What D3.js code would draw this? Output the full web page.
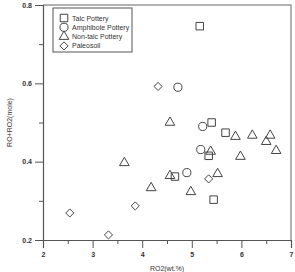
<!DOCTYPE html>
<html>
<head>
<meta charset="utf-8">
<script src="https://cdn.jsdelivr.net/npm/d3@7"></script>
<style>
  body { margin: 0; background: #fff; }
  text { font-family: "Liberation Sans", Arial, sans-serif; fill: #333; }
</style>
</head>
<body>
<div id="chart"></div>
<script>
// series [RO2 wt.%, RO+RO2 mole]
const talc = [[5.16, 0.746], [5.40, 0.50], [5.68, 0.474], [5.34, 0.415], [4.66, 0.362], [5.44, 0.303]];
const amphibole = [[4.72, 0.59], [5.22, 0.49], [5.18, 0.431], [4.90, 0.372]];
const nonTalc = [[3.64, 0.397], [4.18, 0.333], [4.56, 0.50], [4.56, 0.364], [4.98, 0.323],
                 [5.38, 0.426], [5.52, 0.369], [5.88, 0.464], [5.98, 0.413], [6.22, 0.467],
                 [6.50, 0.451], [6.58, 0.467], [6.70, 0.428]];
const paleosoil = [[4.32, 0.592], [5.34, 0.356], [2.54, 0.269], [3.32, 0.213], [3.86, 0.287]];

const xTicks = [2, 3, 4, 5, 6, 7];
const yTicks = [0.2, 0.4, 0.6, 0.8];
const xMinor = [2.5, 3.5, 4.5, 5.5, 6.5];
const yMinor = [0.3, 0.5, 0.7];

const diamond = d3.symbolDiamond2 || d3.symbolDiamond;

const series = [
    { name: "Talc Pottery", data: talc, shape: d3.symbolSquare, size: 56 },
    { name: "Amphibole Pottery", data: amphibole, shape: d3.symbolCircle, size: 52 },
    { name: "Non-talc Pottery", data: nonTalc, shape: d3.symbolTriangle, size: 40 },
    { name: "Paleosoil", data: paleosoil, shape: diamond, size: 42 }
];

let margin = { top: 5, right: 4, bottom: 32, left: 43 },
    width = 295 - margin.left - margin.right,
    height = 272 - margin.top - margin.bottom;

let svg = d3.select("#chart").append("svg")
    .attr("width", 295)
    .attr("height", 272);

let g = svg.append("g")
    .attr("transform", "translate(" + margin.left + "," + margin.top + ")");

let x = d3.scaleLinear().domain([2, 7]).range([0, width]);
let y = d3.scaleLinear().domain([0.2, 0.8]).range([height, 0]);

// frame on top and right
g.append("path")
    .attr("d", "M0,0H" + width + "V" + height)
    .attr("fill", "none")
    .attr("stroke", "#999")
    .attr("stroke-width", 1.5);

// axes
let xAxis = g.append("g")
    .attr("transform", "translate(0," + height + ")")
    .call(d3.axisBottom(x).tickValues(xTicks).tickFormat(d3.format("d")).tickSize(8).tickPadding(4));
g.append("g")
    .attr("transform", "translate(0," + height + ")")
    .call(d3.axisBottom(x).tickValues(xMinor).tickFormat("").tickSize(4))
    .select(".domain").remove();

let yAxis = g.append("g")
    .call(d3.axisLeft(y).tickValues(yTicks).tickFormat(d3.format(".1f")).tickSize(8).tickPadding(3));
g.append("g")
    .call(d3.axisLeft(y).tickValues(yMinor).tickFormat("").tickSize(4))
    .select(".domain").remove();

g.selectAll(".domain").attr("stroke", "#555").attr("stroke-width", 1.2);
g.selectAll(".tick line").attr("stroke", "#555");
g.selectAll(".tick text")
    .style("font-size", "7px")
    .style("font-weight", "bold")
    .style("fill", "#333");

// points
series.forEach(s => {
    g.selectAll(null)
        .data(s.data)
        .enter().append("path")
        .attr("d", d3.symbol().type(s.shape).size(s.size))
        .attr("transform", d => "translate(" + x(d[0]) + "," + y(d[1]) + ")")
        .attr("fill", "none")
        .attr("stroke", "#444")
        .attr("stroke-width", 1);
});

// legend
let legend = g.append("g").attr("transform", "translate(10,3)");
legend.append("rect")
    .attr("width", 79)
    .attr("height", 44)
    .attr("fill", "#fff")
    .attr("stroke", "#555")
    .attr("stroke-width", 1);

series.forEach((s, i) => {
    let row = legend.append("g")
        .attr("transform", "translate(11," + (10 + i * 9.3) + ")");
    row.append("path")
        .attr("d", d3.symbol().type(s.shape).size(s.size))
        .attr("fill", "none")
        .attr("stroke", "#444")
        .attr("stroke-width", 1);
    row.append("text")
        .attr("x", 8)
        .attr("y", 2.5)
        .style("font-size", "7px")
        .text(s.name);
});

// axis titles
svg.append("text")
    .attr("transform", "translate(12," + (margin.top + height / 2) + ") rotate(-90)")
    .attr("text-anchor", "middle")
    .style("font-size", "7px")
    .text("RO+RO2(mole)");

svg.append("text")
    .attr("x", margin.left + width / 2)
    .attr("y", 271)
    .attr("text-anchor", "middle")
    .style("font-size", "7px")
    .text("RO2(wt.%)");
</script>
</body>
</html>
